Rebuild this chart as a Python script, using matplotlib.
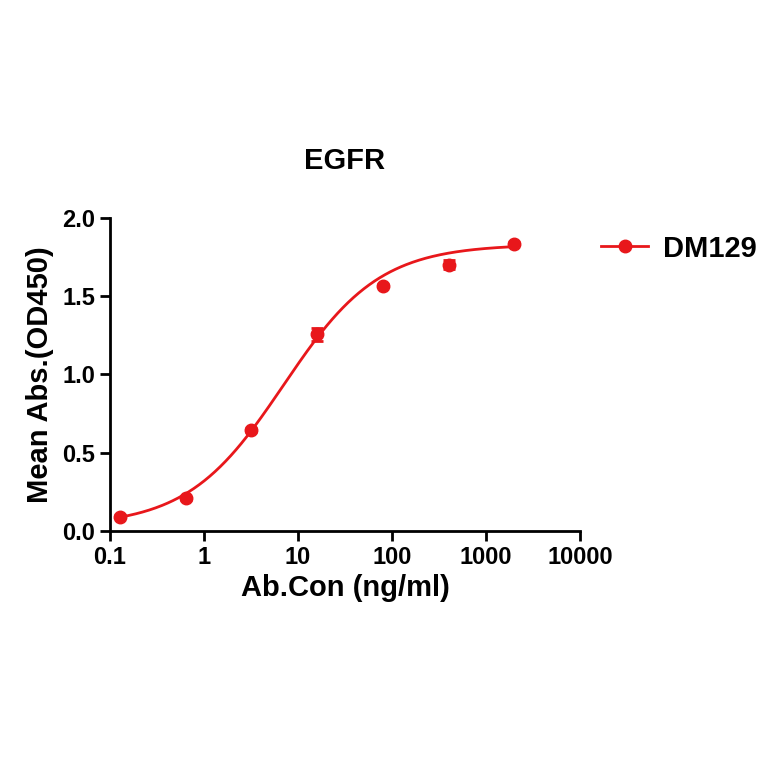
import numpy as np
import matplotlib
matplotlib.use("Agg")
import matplotlib.pyplot as plt

plt.rcParams['font.family'] = ['Liberation Sans', 'DejaVu Sans']
plt.rcParams['font.weight'] = 'bold'

conc = [0.128, 0.64, 3.2, 16, 80, 400, 2000]
mean_abs = [0.09, 0.21, 0.645, 1.255, 1.565, 1.70, 1.835]
err = [0.01, 0.01, 0.01, 0.04, 0.01, 0.03, 0.01]

# 4PL fit parameters
bottom, top, ec50, hill = 0.03, 1.83, 7.0, 0.85

fig = plt.figure(figsize=(7.64, 7.64), dpi=100)
ax = fig.add_axes([0.144, 0.305, 0.615, 0.41])

xs = np.geomspace(0.128, 2000, 300)
ys = bottom + (top - bottom) / (1 + (ec50 / xs) ** hill)
red = '#e8171b'
ax.plot(xs, ys, color=red, lw=2)
ax.errorbar(conc, mean_abs, yerr=err, fmt='o', color=red, ms=9,
            capsize=4, elinewidth=2, capthick=2)
ax.plot([], [], '-o', color=red, ms=9, lw=2, label='DM129')

ax.set_xscale('log')
ax.set_xlim(0.1, 10000)
ax.set_ylim(0, 2.0)
ax.set_xticks([0.1, 1, 10, 100, 1000, 10000])
ax.set_xticklabels(['0.1', '1', '10', '100', '1000', '10000'])
ax.set_yticks([0, 0.5, 1.0, 1.5, 2.0])
ax.set_yticklabels(['0.0', '0.5', '1.0', '1.5', '2.0'])
ax.minorticks_off()
for s in ['top', 'right']:
    ax.spines[s].set_visible(False)
for s in ['left', 'bottom']:
    ax.spines[s].set_linewidth(2)
ax.tick_params(width=2, length=7, labelsize=17)

ax.set_xlabel('Ab.Con (ng/ml)', fontsize=21, fontweight='bold', labelpad=4)
ax.set_ylabel('Mean Abs.(OD450)', fontsize=21, fontweight='bold', labelpad=6)
ax.set_title('EGFR', fontsize=21, fontweight='bold', pad=35)
ax.legend(loc='upper left', bbox_to_anchor=(0.99, 1.03), frameon=False,
          fontsize=21, handlelength=1.6, handletextpad=0.5)

fig.savefig('out.png', dpi=100)
